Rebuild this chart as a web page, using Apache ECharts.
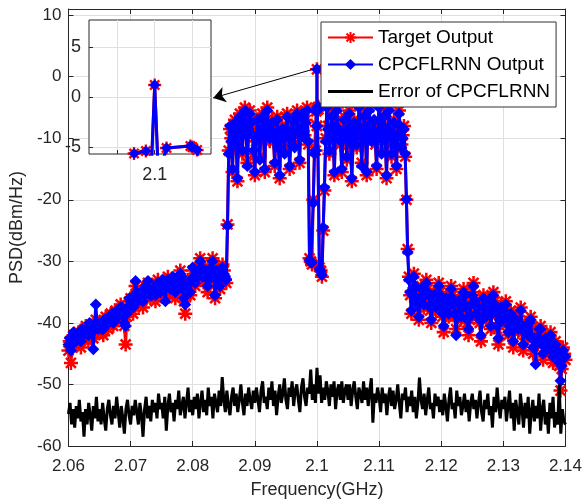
<!DOCTYPE html>
<html><head><meta charset="utf-8">
<script src="https://cdn.jsdelivr.net/npm/echarts@6/dist/echarts.min.js"></script>
<style>html,body{margin:0;padding:0;background:#fff}#c{width:585px;height:504px}</style>
</head><body><div id="c"></div>
<script>
// Target PSD (dBm/Hz), sampled every 0.4 MHz from 2.0600 GHz
const targetOutput = [
-44.5,-46.5,-42.0,-43.5,-41.5,-44.0,-42.5,-40.5,-43.0,-41.0,
-42.5,-39.5,-41.5,-40.0,-42.0,-39.0,-41.0,-38.5,-40.5,-38.0,
-39.5,-37.0,-39.0,-43.5,-38.0,-36.0,-38.5,-34.0,-37.0,-35.5,
-37.5,-34.5,-33.5,-36.0,-34.0,-36.5,-33.0,-35.5,-33.5,-36.0,
-32.5,-35.0,-33.0,-36.0,-34.0,-31.5,-35.0,-38.5,-33.0,-35.5,
-31.5,-34.0,-32.0,-29.5,-33.0,-31.0,-35.0,-32.0,-29.5,-36.0,
-31.0,-34.5,-30.5,-33.0,-24.0,-8.5,-15.5,-7.0,-17.0,-6.0,
-12.5,-5.0,-14.0,-5.5,-9.0,-16.0,-7.5,-13.0,-6.0,-15.5,
-5.0,-10.5,-7.0,-14.5,-6.5,-16.5,-8.0,-12.0,-6.0,-15.0,
-7.5,-11.0,-5.5,-14.0,-6.5,-9.5,-5.0,-29.5,-30.5,-12.0,
1.2,-31.0,-32.5,-18.5,-4.5,-12.5,-6.0,-16.0,-5.0,-9.5,
-15.5,-6.5,-13.5,-5.5,-17.0,-7.0,-11.5,-4.5,-14.0,-6.0,
-16.0,-5.0,-10.0,-7.5,-15.0,-4.5,-12.0,-6.0,-16.5,-5.0,
-13.0,-7.0,-15.0,-5.5,-11.0,-8.0,-20.0,-32.5,-38.5,-32.0,
-36.5,-39.5,-34.0,-37.5,-33.0,-36.0,-40.0,-35.0,-38.0,-33.5,
-37.0,-41.5,-35.5,-39.0,-34.0,-37.5,-41.0,-36.0,-39.5,-34.5,
-38.0,-42.0,-36.5,-33.5,-39.0,-37.0,-43.0,-35.5,-39.5,-36.0,
-41.0,-35.0,-38.5,-43.5,-37.0,-40.0,-36.5,-42.0,-38.0,-44.0,
-39.0,-41.5,-37.5,-44.5,-40.0,-42.5,-39.0,-45.0,-41.0,-43.5,
-40.5,-46.0,-42.0,-44.5,-41.5,-46.5,-43.0,-45.5,-51.0,-44.0,
-46.0];
// Target PSD at the in-between bins (every 0.4 MHz from 2.0602 GHz)
const targetMid = [
-43.0,-44.0,-42.5,-42.0,-43.0,-41.5,-41.0,-42.0,-40.5,-42.0,
-41.0,-40.5,-40.0,-41.5,-40.0,-39.5,-39.5,-39.0,-39.0,-38.5,
-38.0,-38.0,-40.5,-39.0,-36.5,-37.0,-36.0,-35.5,-36.0,-36.5,
-35.5,-34.0,-35.0,-35.0,-35.0,-34.5,-34.0,-34.5,-35.0,-34.0,
-34.0,-34.0,-34.5,-35.0,-33.0,-33.0,-36.5,-35.5,-34.0,-33.5,
-33.0,-33.0,-31.0,-31.5,-32.0,-33.0,-33.5,-30.5,-32.5,-33.5,
-32.5,-32.0,-31.5,-33.5,-12.0,-10.0,-9.5,-11.5,-8.0,-9.0,
-7.5,-9.0,-8.0,-7.0,-12.5,-10.5,-9.0,-8.0,-10.0,-7.0,
-8.0,-8.5,-10.5,-9.5,-11.0,-10.0,-9.5,-8.0,-9.5,-10.5,
-8.5,-7.5,-9.5,-8.0,-7.5,-7.0,-11.0,-30.0,-20.0,-12.0,
-5.0,-31.5,-25.0,-10.0,-8.0,-9.5,-10.5,-7.5,-8.0,-11.0,
-9.0,-9.5,-8.0,-10.5,-11.5,-8.5,-7.5,-9.0,-9.5,-10.0,
-7.5,-8.0,-9.0,-11.0,-8.5,-8.0,-9.5,-10.5,-8.0,-9.0,
-10.0,-11.5,-9.0,-8.5,-9.5,-13.0,-28.0,-35.5,-35.0,-34.5,
-37.5,-36.0,-36.0,-35.0,-34.5,-38.0,-37.5,-36.5,-35.5,-35.0,
-39.0,-38.5,-37.0,-36.5,-35.5,-39.0,-38.5,-37.5,-37.0,-36.0,
-40.0,-39.5,-35.0,-36.0,-38.0,-40.0,-39.0,-37.5,-38.0,-38.5,
-38.0,-36.5,-41.0,-40.0,-38.5,-38.0,-39.0,-40.0,-41.0,-41.5,
-40.0,-39.5,-41.0,-42.0,-41.0,-40.5,-42.0,-43.0,-42.0,-41.5,
-43.0,-44.0,-43.0,-43.0,-44.0,-44.5,-44.0,-47.0,-47.5,-45.0];
// CPCFLRNN output PSD on the same bins
const cpcflrnnOutput = [
-43.5,-44.5,-41.5,-43.0,-42.0,-43.0,-42.0,-41.0,-42.0,-40.5,
-44.3,-37.0,-41.0,-40.5,-41.0,-39.5,-40.0,-39.0,-40.0,-38.5,
-39.0,-37.5,-38.5,-40.5,-37.5,-36.5,-37.5,-33.2,-36.5,-35.0,
-36.5,-34.0,-33.2,-35.5,-34.5,-35.5,-33.5,-35.0,-33.0,-36.5,
-33.0,-34.5,-32.5,-35.0,-33.5,-32.0,-34.5,-37.0,-33.5,-35.0,
-31.0,-33.5,-32.5,-30.0,-32.5,-31.5,-34.0,-31.5,-30.0,-35.5,
-31.5,-34.0,-31.0,-32.5,-24.2,-8.0,-15.0,-7.5,-16.5,-6.5,
-12.0,-5.5,-14.5,-6.0,-9.5,-15.5,-7.0,-13.5,-6.5,-15.0,
-5.5,-10.0,-7.5,-14.0,-7.0,-16.0,-8.5,-12.5,-6.5,-14.5,
-7.0,-11.5,-6.0,-13.5,-6.0,-10.0,-5.5,-29.8,-30.2,-12.5,
1.2,-31.3,-32.2,-18.0,-5.0,-12.0,-6.5,-15.5,-5.5,-9.0,
-15.0,-7.0,-13.0,-6.0,-16.5,-7.5,-11.0,-5.0,-14.5,-6.5,
-15.5,-5.5,-10.5,-7.0,-14.5,-5.0,-12.5,-6.5,-16.0,-5.5,
-12.5,-7.5,-14.5,-6.0,-11.5,-8.5,-19.9,-33.0,-38.0,-32.5,
-36.0,-39.0,-34.5,-37.0,-33.5,-35.5,-39.5,-35.5,-37.5,-34.0,
-36.5,-40.5,-36.0,-38.5,-34.5,-37.0,-42.0,-36.5,-39.0,-35.0,
-37.5,-41.0,-37.0,-34.0,-38.5,-37.5,-42.0,-36.0,-39.0,-36.5,
-40.5,-35.5,-38.0,-42.5,-37.5,-39.5,-37.0,-41.5,-38.5,-43.0,
-39.5,-41.0,-38.0,-43.5,-40.5,-42.0,-39.5,-44.0,-46.7,-43.0,
-41.0,-45.0,-42.5,-44.0,-42.0,-45.5,-43.5,-45.0,-49.4,-44.5,
-45.5];
const cpcflrnnMid = [
-42.5,-43.5,-42.0,-42.5,-42.5,-41.0,-41.5,-41.5,-40.0,-41.5,
-40.5,-40.0,-40.5,-41.0,-39.5,-40.0,-39.0,-38.5,-39.5,-38.0,
-38.5,-37.5,-40.0,-38.5,-36.0,-36.5,-35.5,-35.0,-35.5,-36.0,
-35.0,-34.5,-34.5,-35.5,-34.5,-34.0,-34.5,-34.0,-34.5,-33.5,
-33.5,-33.5,-34.0,-34.5,-33.5,-32.5,-36.0,-35.0,-33.5,-33.0,
-32.5,-32.5,-31.5,-31.0,-32.5,-32.5,-33.0,-31.0,-32.0,-33.0,
-32.0,-31.5,-32.0,-33.0,-12.5,-10.5,-9.0,-11.0,-8.5,-9.5,
-7.0,-9.5,-8.5,-7.5,-12.0,-10.0,-9.5,-8.5,-9.5,-7.5,
-8.5,-9.0,-10.0,-9.0,-11.5,-9.5,-10.0,-8.5,-9.0,-10.0,
-9.0,-8.0,-9.0,-8.5,-7.0,-7.5,-10.5,-30.2,-20.5,-12.0,
-5.0,-31.6,-24.5,-10.5,-8.5,-9.0,-10.0,-8.0,-8.5,-10.5,
-9.5,-9.0,-8.5,-10.0,-11.0,-9.0,-8.0,-8.5,-10.0,-9.5,
-8.0,-8.5,-9.5,-10.5,-9.0,-7.5,-10.0,-10.0,-8.5,-9.5,
-9.5,-11.0,-9.5,-8.0,-10.0,-12.5,-28.5,-35.0,-35.5,-34.0,
-37.0,-36.5,-35.5,-35.5,-35.0,-37.5,-37.0,-37.0,-35.0,-35.5,
-38.5,-38.0,-37.5,-36.0,-36.0,-38.5,-39.0,-37.0,-37.5,-35.5,
-39.5,-39.0,-35.5,-36.5,-37.5,-39.5,-39.5,-37.0,-38.5,-38.0,
-38.5,-37.0,-40.5,-39.5,-39.0,-38.5,-38.5,-40.5,-40.5,-41.0,
-40.5,-40.0,-40.5,-41.5,-41.5,-40.0,-42.5,-42.5,-42.5,-41.0,
-43.5,-43.5,-43.5,-42.5,-44.5,-44.0,-44.5,-46.5,-47.0,-45.5];
// Error PSD, sampled every 0.25 MHz from 2.06 GHz
const errorOfCPCFLRNN = [
-54.8,-53.0,-56.5,-54.0,-57.0,-53.5,-55.5,-52.5,-56.0,-54.5,-58.5,-54.0,-56.5,-53.0,-55.0,-57.5,-53.5,-55.5,-52.0,-56.0,
-54.0,-56.5,-53.0,-55.5,-57.5,-54.0,-52.5,-55.0,-56.5,-53.5,-55.5,-52.0,-54.5,-57.0,-53.5,-55.5,-58.0,-54.0,-52.5,-55.0,
-56.5,-53.5,-55.0,-52.5,-54.5,-56.5,-53.0,-55.0,-58.5,-54.0,-52.0,-55.5,-53.5,-56.0,-52.5,-54.5,-53.0,-55.5,-51.5,-54.0,
-53.0,-55.5,-52.0,-57.5,-53.5,-51.5,-54.5,-53.0,-56.0,-52.5,-54.0,-51.0,-55.0,-53.5,-52.0,-55.5,-53.0,-50.5,-54.5,-52.5,
-55.0,-52.0,-54.0,-51.5,-55.5,-53.0,-51.0,-54.5,-52.5,-55.0,-50.5,-53.5,-52.0,-55.5,-51.5,-53.0,-54.5,-51.0,-53.5,-48.8,
-52.5,-54.5,-51.0,-53.5,-55.0,-52.0,-50.5,-53.5,-51.5,-54.5,-52.5,-50.0,-53.0,-55.0,-51.5,-53.5,-50.5,-52.5,-54.0,-51.0,
-53.0,-50.5,-52.5,-54.5,-51.0,-49.5,-53.0,-52.0,-54.0,-50.5,-52.5,-49.5,-53.5,-51.0,-55.0,-52.0,-50.0,-53.0,-51.5,-49.0,
-52.5,-54.0,-50.5,-52.0,-49.5,-53.5,-51.0,-50.0,-52.5,-54.5,-50.5,-49.0,-52.0,-53.5,-50.5,-51.5,-47.6,-52.5,-50.0,-53.0,
-47.3,-51.5,-48.5,-53.0,-50.5,-52.5,-49.5,-51.0,-53.5,-50.0,-52.0,-49.5,-54.0,-51.0,-50.0,-52.5,-49.5,-53.0,-51.0,-50.0,
-52.5,-50.0,-53.5,-51.0,-49.5,-52.0,-54.0,-50.5,-51.5,-53.0,-49.5,-52.5,-50.5,-53.5,-51.0,-49.0,-56.2,-51.5,-53.0,-50.5,
-52.0,-54.5,-50.5,-53.0,-51.5,-55.0,-52.0,-50.5,-53.5,-51.0,-54.0,-52.5,-50.0,-53.0,-55.5,-51.5,-52.5,-50.5,-54.5,-52.0,
-53.5,-51.0,-54.5,-52.0,-55.5,-53.0,-48.9,-52.5,-54.0,-51.5,-55.0,-52.5,-50.5,-54.0,-53.0,-55.5,-51.5,-53.5,-52.0,-54.5,
-52.5,-55.0,-51.5,-53.5,-56.0,-52.5,-50.5,-54.0,-53.0,-55.5,-51.0,-53.5,-52.0,-55.0,-53.5,-51.5,-54.5,-52.5,-56.0,-53.0,
-51.5,-54.0,-52.5,-55.5,-53.0,-51.0,-54.5,-56.0,-52.5,-54.0,-51.5,-55.0,-53.5,-57.0,-52.0,-54.5,-50.5,-53.5,-55.5,-52.5,
-54.0,-52.0,-56.0,-53.5,-51.0,-55.5,-53.0,-57.5,-52.5,-54.5,-56.5,-51.5,-54.0,-57.0,-53.0,-55.5,-52.0,-58.0,-54.5,-52.5,
-56.0,-53.5,-55.5,-51.5,-57.5,-54.0,-52.5,-56.5,-54.5,-58.0,-53.0,-55.5,-52.0,-57.0,-54.5,-56.5,-50.0,-58.0,-54.0,-56.0,
-56.5];
// extra fine-resolution samples around the 2.1 GHz peak (shown in the inset)
const insetFreq   = [2.09989, 2.099953, 2.09998, 2.10002, 2.100063, 2.10019, 2.100226];
const insetTarget = [-5.65, -5.4, -8.0, -8.0, -5.1, -4.9, -5.3];
const insetModel  = [-5.65, -5.4, -8.0, -8.0, -5.1, -4.9, -5.3];
const insetXTicks = [2.0998, 2.1, 2.1002];
const insetXLabels = [2.1];
const insetYTicks = [-5, 0, 5];

const bandFreq = targetOutput.map((_, i) => +(2.06 + i * 0.0004).toFixed(4));
const midFreq = targetMid.map((_, i) => +(2.0602 + i * 0.0004).toFixed(4));
const errFreq = errorOfCPCFLRNN.map((_, i) => +(2.06 + i * 0.00025).toFixed(5));
function merge(vals, mids, fine) {
  const pts = bandFreq.map((f, i) => [f, vals[i]]);
  midFreq.forEach((f, i) => pts.push([f, mids[i]]));
  insetFreq.forEach((f, i) => pts.push([f, fine[i]]));
  pts.sort((a, b) => a[0] - b[0]);
  return pts;
}
const targetPts = merge(targetOutput, targetMid, insetTarget);
const modelPts = merge(cpcflrnnOutput, cpcflrnnMid, insetModel);
const errPts = errFreq.map((f, i) => [f, errorOfCPCFLRNN[i]]);

const FONT = 'Liberation Sans, Arial, Helvetica, sans-serif';
const AX = '#262626';
const GRIDC = '#dfdfdf';
const STAR = 'path://M-1.8,-10L1.8,-10L1.8,10L-1.8,10Z M-10,-1.8L10,-1.8L10,1.8L-10,1.8Z M-5.8,-8.34L8.34,5.8L5.8,8.34L-8.34,-5.8Z M-8.34,5.8L5.8,-8.34L8.34,-5.8L-5.8,8.34Z';
const LINEICON = 'path://M0,0L0.01,0L0.01,0.01Z M0,5.6L45,5.6L45,8.4L0,8.4Z M0,14L0.01,14L0.01,13.99Z';
const fmtX = v => String(+v.toFixed(4));

const chart = echarts.init(document.getElementById('c'), null, {renderer: 'canvas'});
chart.setOption({
  animation: false,
  backgroundColor: '#fff',
  textStyle: {fontFamily: FONT},
  grid: [
    {left: 68, top: 9, right: 18, bottom: 58, show: false},
    {left: 89, top: 20, width: 122, height: 134, show: true, backgroundColor: '#fff', borderColor: AX, borderWidth: 1, z: 5}
  ],
  legend: {
    data: ['Target Output', 'CPCFLRNN Output', {name: 'Error of CPCFLRNN', icon: LINEICON}],
    orient: 'vertical', left: 321, top: 22, padding: [6, 6, 6, 6], itemGap: 8,
    itemWidth: 45, itemHeight: 14, backgroundColor: '#fff', borderColor: '#333', borderWidth: 1,
    textStyle: {fontSize: 19, fontFamily: FONT, color: '#000'}, selectedMode: false, z: 20
  },
  xAxis: [
    {gridIndex: 0, type: 'value', min: 2.06, max: 2.14, interval: 0.01, position: 'bottom',
     axisLine: {show: true, onZero: false, lineStyle: {color: AX, width: 1}},
     axisTick: {inside: true, length: 5, lineStyle: {color: AX}},
     axisLabel: {color: AX, fontSize: 17, fontFamily: FONT, margin: 12, formatter: fmtX},
     splitLine: {show: true, lineStyle: {color: GRIDC, width: 1}},
     name: 'Frequency(GHz)', nameLocation: 'middle', nameGap: 35,
     nameTextStyle: {color: AX, fontSize: 18, fontFamily: FONT}},
    {gridIndex: 0, type: 'value', min: 2.06, max: 2.14, interval: 0.01, position: 'top',
     axisLine: {show: true, onZero: false, lineStyle: {color: AX, width: 1}},
     axisTick: {inside: true, length: 5, lineStyle: {color: AX}},
     axisLabel: {show: false}, splitLine: {show: false}},
    {gridIndex: 1, type: 'value', min: 2.09965, max: 2.1003, z: 6,
     axisLine: {show: false, onZero: false},
     axisTick: {inside: true, length: 4, customValues: insetXTicks, lineStyle: {color: AX}},
     axisLabel: {customValues: insetXLabels, color: AX, fontSize: 18, fontFamily: FONT, margin: 12, formatter: fmtX},
     splitLine: {show: true, lineStyle: {color: GRIDC, width: 1}}}
  ],
  yAxis: [
    {gridIndex: 0, type: 'value', min: -60, max: 11, interval: 10, position: 'left',
     axisLine: {show: true, onZero: false, lineStyle: {color: AX, width: 1}},
     axisTick: {inside: true, length: 5, lineStyle: {color: AX}},
     axisLabel: {color: AX, fontSize: 17, fontFamily: FONT, margin: 7, formatter: v => v > 10 ? '' : String(v)},
     splitLine: {show: true, lineStyle: {color: GRIDC, width: 1}},
     name: 'PSD(dBm/Hz)', nameLocation: 'middle', nameGap: 42,
     nameTextStyle: {color: AX, fontSize: 18, fontFamily: FONT}},
    {gridIndex: 0, type: 'value', min: -60, max: 11, interval: 10, position: 'right',
     axisLine: {show: true, onZero: false, lineStyle: {color: AX, width: 1}},
     axisTick: {inside: true, length: 5, lineStyle: {color: AX}},
     axisLabel: {show: false}, splitLine: {show: false}},
    {gridIndex: 1, type: 'value', min: -5.7, max: 7.7, z: 6,
     axisLine: {show: false, onZero: false},
     axisTick: {inside: true, length: 4, customValues: insetYTicks, lineStyle: {color: AX}},
     axisLabel: {customValues: insetYTicks, color: AX, fontSize: 18, fontFamily: FONT, margin: 8},
     splitLine: {show: true, lineStyle: {color: GRIDC, width: 1}}}
  ],
  series: [
    {name: 'Target Output', type: 'line', xAxisIndex: 0, yAxisIndex: 0, data: targetPts,
     symbol: STAR, symbolSize: 14, showAllSymbol: true, z: 2,
     lineStyle: {color: '#ff0000', width: 3}, itemStyle: {color: '#ff0000'}, emphasis: {disabled: true}},
    {name: 'CPCFLRNN Output', type: 'line', xAxisIndex: 0, yAxisIndex: 0, data: modelPts,
     symbol: 'diamond', symbolSize: 12, showAllSymbol: true, z: 3,
     lineStyle: {color: '#0000ff', width: 3}, itemStyle: {color: '#0000ff'}, emphasis: {disabled: true},
     markLine: {silent: true, symbol: ['none', 'arrow'], symbolSize: 12, label: {show: false},
       lineStyle: {color: '#000', width: 1, type: 'solid'}, emphasis: {disabled: true},
       data: [[{coord: [2.0997, 1.3]}, {coord: [2.0833, -3.45]}]]}},
    {name: 'Error of CPCFLRNN', type: 'line', xAxisIndex: 0, yAxisIndex: 0, data: errPts,
     symbol: 'none', z: 4, lineStyle: {color: '#000', width: 3}, itemStyle: {color: '#000'}, emphasis: {disabled: true}},
    {name: 'inset target', type: 'line', xAxisIndex: 2, yAxisIndex: 2, data: targetPts,
     symbol: STAR, symbolSize: 13, showAllSymbol: true, z: 7, clip: true,
     lineStyle: {color: '#ff0000', width: 3}, itemStyle: {color: '#ff0000'}, emphasis: {disabled: true}},
    {name: 'inset model', type: 'line', xAxisIndex: 2, yAxisIndex: 2, data: modelPts,
     symbol: 'diamond', symbolSize: 11, showAllSymbol: true, z: 8, clip: true,
     lineStyle: {color: '#0000ff', width: 3}, itemStyle: {color: '#0000ff'}, emphasis: {disabled: true}}
  ]
});
</script></body></html>
